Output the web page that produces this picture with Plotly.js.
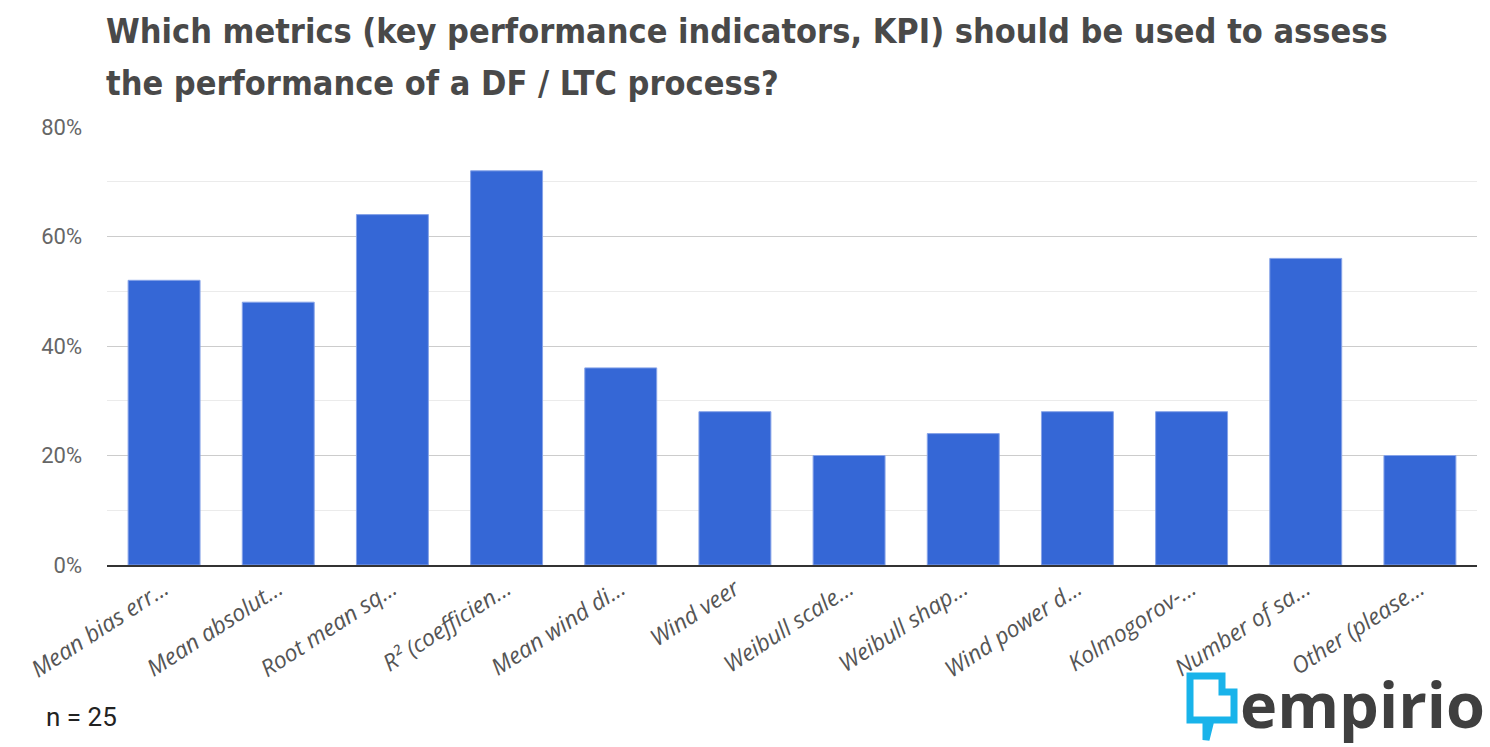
<!DOCTYPE html>
<html>
<head>
<meta charset="utf-8">
<script src="https://cdn.plot.ly/plotly-3.0.1.min.js"></script>
<style>
html,body{margin:0;padding:0;background:#fff;}
#chart{width:1490px;height:747px;}
</style>
</head>
<body>
<div id="chart"></div>
<script>
const categories = [
  "Mean bias err...", "Mean absolut...", "Root mean sq...", "R² (coefficien...",
  "Mean wind di...", "Wind veer", "Weibull scale...", "Weibull shap...",
  "Wind power d...", "Kolmogorov-...", "Number of sa...", "Other (please..."
];
const shares = [0.52, 0.48, 0.64, 0.72, 0.36, 0.28, 0.20, 0.24, 0.28, 0.28, 0.56, 0.20];
const yTickVals = [0, 0.2, 0.4, 0.6, 0.8];
const yTickText = ["0%", "20%", "40%", "60%", "80%"];
const titleLine1 = "Which metrics (key performance indicators, KPI) should be used to assess";
const titleLine2 = "the performance of a DF / LTC process?";
const noteText = "n = 25";
const logoText = "empirio";

// plot-area geometry helpers (paper coordinates from pixel positions)
const L = 107, T = 127, W = 1370, H = 438;
const px = x => (x - L) / W;
const py = y => (T + H - y) / H;

const trace = {
  type: "bar",
  x: categories,
  y: shares,
  marker: {color: "#3567d6", line: {color: "#86a3e8", width: 1}},
  hoverinfo: "x+y"
};

const iconPts = [
  [1190, 676], [1222, 676], [1222, 692], [1234, 692], [1234, 720],
  [1211, 720], [1206, 740], [1206, 720], [1190, 720]
];
const iconPath = iconPts.map((p, i) => (i ? "L " : "M ") + px(p[0]) + "," + py(p[1])).join(" ") + " Z";

const titleFont = {family: "'DejaVu Sans Condensed', 'DejaVu Sans', sans-serif", size: 34, color: "#494949"};

const layout = {
  width: 1490, height: 747,
  paper_bgcolor: "#ffffff", plot_bgcolor: "#ffffff",
  margin: {l: L, r: 1490 - L - W, t: T, b: 747 - T - H},
  showlegend: false,
  bargap: 0.37,
  xaxis: {
    type: "category",
    tickangle: -33,
    tickfont: {family: "'Open Sans', sans-serif", size: 23, color: "#555555", style: "italic"},
    showgrid: false,
    showline: true, linecolor: "#333333", linewidth: 1.5,
    ticks: "", automargin: false
  },
  yaxis: {
    range: [0, 0.8],
    tickvals: yTickVals, ticktext: yTickText,
    tickfont: {family: "Roboto, sans-serif", size: 22, color: "#666666"},
    gridcolor: "#cccccc", gridwidth: 1,
    minor: {dtick: 0.1, showgrid: true, gridcolor: "#ebebeb", gridwidth: 1},
    zeroline: false, showline: false, ticks: "",
    ticklabelstandoff: 24,
    automargin: false
  },
  annotations: [
    {text: "<b>" + titleLine1 + "</b>", xref: "paper", yref: "paper",
     x: px(104), y: py(31), xanchor: "left", yanchor: "middle", align: "left", showarrow: false,
     font: titleFont},
    {text: "<b>" + titleLine2 + "</b>", xref: "paper", yref: "paper",
     x: px(104), y: py(83), xanchor: "left", yanchor: "middle", align: "left", showarrow: false,
     font: titleFont},
    {text: noteText, xref: "paper", yref: "paper", x: px(44), y: py(717),
     xanchor: "left", yanchor: "middle", showarrow: false,
     font: {family: "Roboto, sans-serif", size: 26, color: "#222222"}},
    {text: "<b>" + logoText + "</b>", xref: "paper", yref: "paper",
     x: px(1487), y: py(703), xanchor: "right", yanchor: "middle", showarrow: false,
     font: {family: "'Open Sans', sans-serif", size: 63, color: "#3f3f3f"}}
  ],
  shapes: [
    {type: "path", xref: "paper", yref: "paper", path: iconPath,
     fillcolor: "rgba(0,0,0,0)", line: {color: "#19b3ea", width: 7}}
  ]
};

Plotly.newPlot("chart", [trace], layout, {displayModeBar: false, staticPlot: true});
</script>
</body>
</html>
